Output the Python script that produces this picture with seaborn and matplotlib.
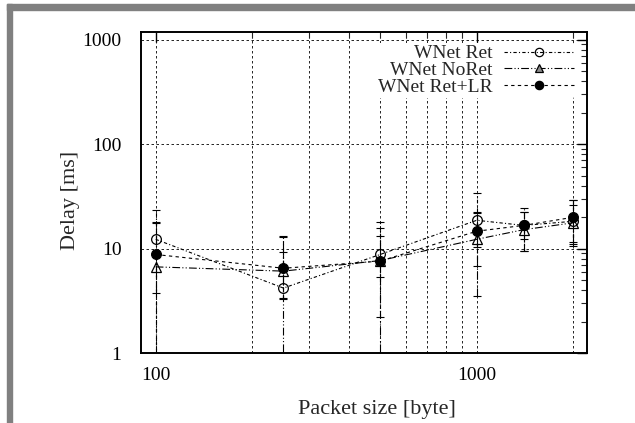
import numpy as np
import pandas as pd
import matplotlib
matplotlib.use("Agg")
import matplotlib.pyplot as plt
import seaborn as sns
from matplotlib.patches import Rectangle
from matplotlib.lines import Line2D
from matplotlib.ticker import FixedLocator, NullFormatter, LogLocator

# ---- data ----
packet_sizes = [100, 250, 500, 1000, 1400, 2000]

ret_mean = [12.3, 4.2, 8.8, 18.7, 16.7, 18.3]
ret_low = [0.5, 3.3, 2.2, 10.3, 9.4, 10.5]
ret_high = [23.7, 9.3, 15.9, 34.4, 24.7, 26.4]

noret_mean = [6.7, 6.1, 7.7, 12.3, 15.2, 17.7]
noret_low = [3.8, 0.5, 0.5, 3.5, 9.4, 11.5]
noret_high = [18.2, 13.1, 13.1, 22.2, 22.6, 29.5]

lr_mean = [8.8, 6.5, 7.6, 14.7, 16.7, 20.0]
lr_low = [0.5, 3.4, 5.4, 6.8, 12.3, 11.0]
lr_high = [17.5, 12.8, 18.2, 22.0, 22.6, 29.0]

series_names = ["WNet Ret", "WNet NoRet", "WNet Ret+LR"]
x_tick_labels = ["100", "1000"]
y_tick_labels = ["1", "10", "100", "1000"]

# ---- style ----
sns.set_style("white")
plt.rcParams["font.family"] = ["Liberation Serif", "DejaVu Serif"]

fig = plt.figure(figsize=(6.35, 4.23), dpi=100)
ax = fig.add_axes([0.222, 0.165, 0.702, 0.759])

styles = [
    dict(marker="o", mfc="none", ls=(0, (3, 2, 1, 2)), ms=7),
    dict(marker="^", mfc="none", ls=(0, (7, 2, 1, 2, 1, 2)), ms=7),
    dict(marker="o", mfc="black", ls=(0, (3, 3)), ms=7),
]
means = [ret_mean, noret_mean, lr_mean]
lows = [ret_low, noret_low, lr_low]
highs = [ret_high, noret_high, lr_high]

handles = []
for name, m, lo, hi, st in zip(series_names, means, lows, highs, styles):
    df = pd.DataFrame({"size": packet_sizes, "delay": m})
    sns.lineplot(data=df, x="size", y="delay", ax=ax, color="black",
                 linewidth=0.8, linestyle=st["ls"], marker=st["marker"],
                 markersize=st["ms"], markerfacecolor=st["mfc"],
                 markeredgecolor="black", markeredgewidth=0.9, zorder=3)
    m_arr = np.array(m)
    yerr = [m_arr - np.array(lo), np.array(hi) - m_arr]
    cont = ax.errorbar(packet_sizes, m, yerr=yerr, fmt="none", ecolor="black",
                       elinewidth=0.8, capsize=3, capthick=0.8, zorder=2)
    for lc in cont[2]:
        lc.set_linestyle(st["ls"])
    handles.append(Line2D([0], [0], color="black", lw=0.8, linestyle=st["ls"],
                          marker=st["marker"], ms=st["ms"] - 1,
                          mfc=("0.55" if st["marker"] == "^" else st["mfc"]),
                          mec="black", mew=0.9))

ax.set_xscale("log")
ax.set_yscale("log")
ax.set_xlim(90, 2200)
ax.set_ylim(1, 1180)

ax.xaxis.set_major_locator(FixedLocator([100, 1000]))
ax.set_xticklabels(x_tick_labels)
ax.xaxis.set_minor_locator(FixedLocator([200, 300, 400, 500, 600, 700, 800, 900, 2000]))
ax.xaxis.set_minor_formatter(NullFormatter())
ax.yaxis.set_major_locator(FixedLocator([1, 10, 100, 1000]))
ax.set_yticklabels(y_tick_labels)
ax.yaxis.set_minor_locator(LogLocator(base=10, subs=np.arange(2, 10)))
ax.yaxis.set_minor_formatter(NullFormatter())

ax.tick_params(which="major", direction="in", length=7, width=1.0,
               top=True, right=True, labelsize=14, colors="black")
ax.tick_params(which="minor", direction="in", length=4, width=0.8,
               top=True, right=True)
ax.tick_params(axis="x", which="major", pad=10)
ax.tick_params(axis="y", which="major", pad=14)

gkw = dict(color="black", linewidth=0.6, linestyle=(0, (3, 3)))
ax.grid(True, which="major", axis="both", **gkw)
ax.grid(True, which="minor", axis="x", **gkw)
ax.set_axisbelow(True)

for sp in ax.spines.values():
    sp.set_color("black")
    sp.set_linewidth(1.4)

ax.set_xlabel("Packet size [byte]", fontsize=16)
ax.set_ylabel("Delay [ms]", fontsize=16)
ax.xaxis.set_label_coords(0.53, -0.146)
ax.yaxis.set_label_coords(-0.137, 0.477)

leg = ax.legend(handles, series_names, loc="upper right", markerfirst=False,
                frameon=True, fontsize=14, handlelength=3.6, labelspacing=-0.05,
                borderaxespad=0.55, handletextpad=0.6, borderpad=0.1)
leg.get_frame().set_facecolor("white")
leg.get_frame().set_edgecolor("none")
leg.get_frame().set_alpha(1.0)

# gray frame lines (top and left)
fig.patches.append(Rectangle((7 / 635, 1 - 10 / 423), 1 - 7 / 635, 6 / 423,
                             transform=fig.transFigure, color="#808080", zorder=0))
fig.patches.append(Rectangle((7 / 635, 0), 5 / 635, 1 - 4 / 423,
                             transform=fig.transFigure, color="#808080", zorder=0))

fig.savefig("out.png", dpi=100)
